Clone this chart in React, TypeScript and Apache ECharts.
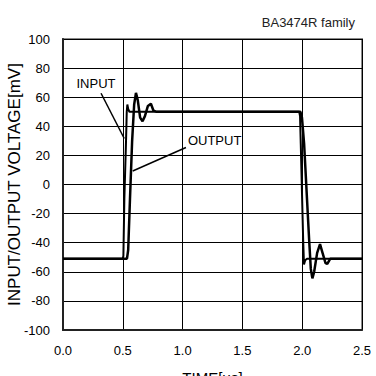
import React, { useEffect, useRef } from "react";
import * as echarts from "echarts";

const chartTitle = "BA3474R family";
const xAxisName = "TIME[μs]";
const yAxisName = "INPUT/OUTPUT VOLTAGE[mV]";

const inputSeries: [number, number][] = [
  [0.0, -51], [0.5, -51], [0.505, -49], [0.513, -10], [0.527, 30], [0.533, 50],
  [0.538, 55], [0.545, 52], [0.555, 50], [1.0, 50], [1.5, 50], [1.975, 50],
  [1.982, 47], [1.988, 28], [2.008, -38], [2.015, -55], [2.025, -52],
  [2.04, -51], [2.5, -51],
];

const outputSeries: [number, number][] = [
  [0.0, -51], [0.535, -51], [0.545, -45], [0.56, -10], [0.578, 30], [0.595, 55],
  [0.61, 63], [0.625, 58], [0.645, 46], [0.665, 43.5], [0.685, 47], [0.71, 54],
  [0.735, 55.5], [0.755, 51], [0.78, 50], [1.0, 50], [1.5, 50], [1.985, 50],
  [1.998, 46], [2.016, 28], [2.058, -38], [2.072, -58], [2.085, -64.5],
  [2.1, -60], [2.125, -47], [2.149, -41], [2.17, -47], [2.195, -54],
  [2.21, -54.5], [2.235, -51], [2.25, -51], [2.5, -51],
];

const inputLabel = { text: "INPUT", at: [0.276, 69.5] };
const outputLabel = { text: "OUTPUT", at: [1.268, 30.5] };
const inputLeader: [number, number][] = [[0.318, 62.7], [0.512, 31.6]];
const outputLeader: [number, number][] = [[1.028, 25.4], [0.583, 9.3]];

export default function App() {
  const ref = useRef<HTMLDivElement>(null);
  useEffect(() => {
    if (!ref.current) return;
    const chart = echarts.init(ref.current, undefined, { renderer: "svg" });
    const font = "Liberation Sans, Arial, sans-serif";
    chart.setOption({
      animation: false,
      title: {
        text: chartTitle,
        right: 16,
        top: 11,
        textStyle: { fontSize: 13, fontWeight: "normal", color: "#222", fontFamily: font },
      },
      grid: {
        left: 63, right: 14, top: 39, bottom: 46,
        outerBoundsMode: "none", containLabel: false,
        show: true, borderColor: "#8a8a8a", borderWidth: 2, backgroundColor: "#fff",
      },
      xAxis: {
        type: "value", min: 0, max: 2.5, interval: 0.5,
        name: xAxisName, nameLocation: "middle", nameGap: 40, nameMoveOverlap: false,
        nameTextStyle: { fontSize: 15, color: "#000", fontFamily: font, verticalAlign: "top" },
        axisLine: { show: true, onZero: false, lineStyle: { color: "#222", width: 2 } },
        axisTick: { show: false },
        axisLabel: { margin: 14, fontSize: 13, color: "#000", fontFamily: font, formatter: (v: number) => v.toFixed(1) },
        splitLine: { show: true, lineStyle: { color: "#000", width: 1 } },
      },
      yAxis: {
        type: "value", min: -100, max: 100, interval: 20,
        name: yAxisName, nameLocation: "middle", nameGap: 40, nameRotate: 90, nameMoveOverlap: false,
        nameTextStyle: { fontSize: 17, color: "#000", fontFamily: font },
        axisLine: { show: true, onZero: false, lineStyle: { color: "#222", width: 2 } },
        axisTick: { show: false },
        axisLabel: { margin: 13, fontSize: 13, color: "#000", fontFamily: font },
        splitLine: { show: true, lineStyle: { color: "#000", width: 1 } },
      },
      series: [
        {
          name: "INPUT", type: "line", data: inputSeries, showSymbol: false,
          lineStyle: { color: "#000", width: 2 }, z: 3,
          markLine: {
            silent: true, symbol: "none", label: { show: false },
            lineStyle: { color: "#000", width: 1.5, type: "solid" },
            data: [
              [{ coord: inputLeader[0] }, { coord: inputLeader[1] }],
              [{ coord: outputLeader[0] }, { coord: outputLeader[1] }],
            ],
          },
          markPoint: {
            silent: true, symbol: "circle", symbolSize: 0,
            label: { show: true, color: "#000", fontSize: 13, fontFamily: font, position: "inside" },
            data: [
              { coord: inputLabel.at, value: inputLabel.text, label: { formatter: inputLabel.text } },
              { coord: outputLabel.at, value: outputLabel.text, label: { formatter: outputLabel.text } },
            ],
          },
        },
        {
          name: "OUTPUT", type: "line", data: outputSeries, showSymbol: false,
          lineStyle: { color: "#000", width: 2.5 }, z: 3,
        },
      ],
    });
    return () => chart.dispose();
  }, []);
  return <div ref={ref} style={{ width: 376, height: 376, position: "absolute", left: 0, top: 0 }} />;
}
